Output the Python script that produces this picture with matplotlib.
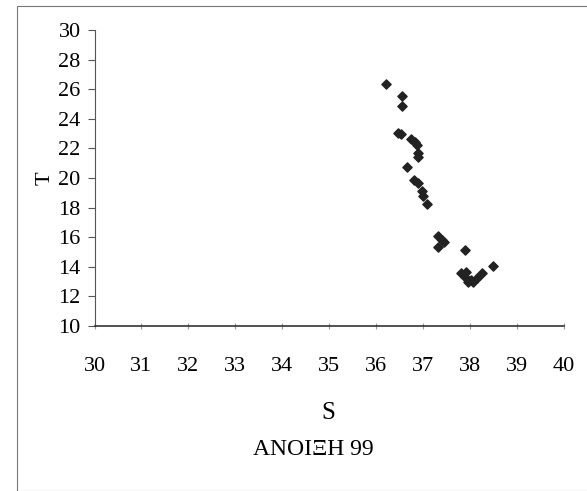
import matplotlib
matplotlib.use("Agg")
import matplotlib.pyplot as plt
from matplotlib.patches import Rectangle

# Salinity / temperature readings (spring 99)
S = [36.21, 36.54, 36.54, 36.47, 36.52, 36.74, 36.82, 36.86, 36.89, 36.89,
     36.66, 36.81, 36.89, 36.97, 36.99, 37.07, 37.32, 37.39, 37.45, 37.31,
     37.90, 38.48, 38.25, 37.80, 37.88, 37.96, 38.06, 38.14, 37.92, 38.02]
T = [26.32, 25.57, 24.85, 23.04, 22.95, 22.60, 22.40, 22.20, 21.70, 21.40,
     20.73, 19.88, 19.65, 19.10, 18.80, 18.25, 16.10, 15.80, 15.70, 15.35,
     15.13, 14.05, 13.55, 13.55, 13.28, 12.98, 12.98, 13.23, 13.62, 13.10]
x_ticks = list(range(30, 41))
y_ticks = list(range(10, 31, 2))
title = "ΑΝΟΙΞΗ 99"

plt.rcParams["font.family"] = ["Liberation Serif", "DejaVu Serif"]

fig = plt.figure(figsize=(5.87, 4.91), dpi=100)
fig.patches.append(Rectangle((0.029, 0.0), 0.975, 0.988, transform=fig.transFigure,
                             fill=False, edgecolor="#777777", linewidth=0.8))

ax = fig.add_axes([0.161, 0.336, 0.800, 0.603])
ax.scatter(S, T, marker="D", s=22, color="#222222", zorder=3)
ax.set_xlim(30, 40)
ax.set_ylim(10, 30)
ax.set_xticks(x_ticks)
ax.set_yticks(y_ticks)
for side in ("top", "right"):
    ax.spines[side].set_visible(False)
ax.spines["left"].set_color("#555555")
ax.spines["bottom"].set_color("#333333")
ax.spines["bottom"].set_linewidth(1.2)
ax.tick_params(axis="x", direction="inout", length=5, pad=20, labelsize=16, color="#999999")
ax.tick_params(axis="y", direction="out", length=5, pad=5, labelsize=16, color="#555555")
ax.set_ylabel("T", fontsize=16, labelpad=3)

fig.text(0.559, 0.159, "S", fontsize=18, ha="center", va="center")
fig.text(0.533, 0.085, title, fontsize=17, ha="center", va="center")

fig.savefig("out.png", dpi=100)
